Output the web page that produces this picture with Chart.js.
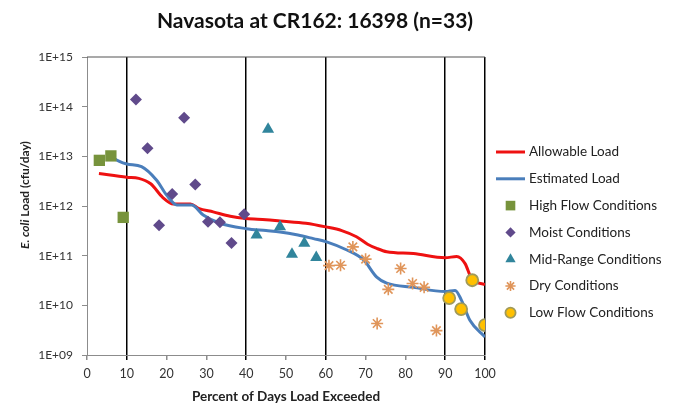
<!DOCTYPE html>
<html>
<head>
<meta charset="utf-8">
<script src="https://cdn.jsdelivr.net/npm/chart.js@4.4.1/dist/chart.umd.min.js"></script>
<style>
  html, body { margin: 0; padding: 0; background: #fff; }
</style>
</head>
<body>
<canvas id="loadChart" width="678" height="406"></canvas>
<script>
// load duration curve data
const allowX = [3, 10, 13, 16, 19, 21.7, 26, 28, 31.7, 36, 40, 45, 48.5, 55, 60, 64, 67.7, 70.5, 72.8, 75.3, 82, 90, 92.9, 95, 96.6, 100];
const allowY = [4.5e12, 3.8e12, 3.6e12, 2.8e12, 1.5e12, 1.1e12, 1.1e12, 9e11, 7.6e11, 6.2e11, 5.6e11, 5.3e11, 5e11, 4.5e11, 3.8e11, 3.2e11, 2.4e11, 1.7e11, 1.4e11, 1.2e11, 1.1e11, 9.1e10, 9.6e10, 6.9e10, 3.5e10, 2.6e10];

const estX = [6, 8, 10, 13.7, 17.5, 20, 22.6, 26.3, 29.2, 33.4, 40, 45, 48.5, 53, 56.9, 60.2, 65.3, 69.5, 72.8, 75.3, 82, 90, 92.5, 94.1, 96.2, 100];
const estY = [1.0e13, 8e12, 7e12, 6.2e12, 3.3e12, 1.66e12, 1.05e12, 1.05e12, 6.6e11, 4.5e11, 3.5e11, 3.2e11, 3e11, 2.6e11, 2.2e11, 1.9e11, 1.3e11, 8.2e10, 3.7e10, 2.8e10, 2.3e10, 1.9e10, 2e10, 1.26e10, 5e9, 2.3e9];

const highX = [3.1, 6.0, 9.1];
const highY = [8.3e12, 1.02e13, 5.9e11];

const moistX = [12.3, 15.2, 18.1, 21.4, 24.4, 27.2, 30.4, 33.4, 36.3, 39.5];
const moistY = [1.4e14, 1.45e13, 4.1e11, 1.75e12, 6e13, 2.7e12, 4.8e11, 4.7e11, 1.8e11, 6.8e11];

const midX = [42.6, 45.5, 48.5, 51.5, 54.6, 57.6];
const midY = [2.6e11, 3.5e13, 3.8e11, 1.07e11, 1.77e11, 9.2e10];

const dryX = [60.8, 63.7, 66.8, 70.0, 72.9, 75.7, 78.8, 81.8, 84.7, 87.8];
const dryY = [6.3e10, 6.4e10, 1.5e11, 8.5e10, 4.3e9, 2.1e10, 5.5e10, 2.75e10, 2.3e10, 3.1e9];

const lowX = [91.0, 94.0, 96.8, 100];
const lowY = [1.4e10, 8.4e9, 3.2e10, 4e9];

const xTicks = [0, 10, 20, 30, 40, 50, 60, 70, 80, 90, 100];
const yTicks = [1e9, 1e10, 1e11, 1e12, 1e13, 1e14, 1e15];
const zoneLines = [10, 40, 60, 90, 100];

const pts = (xs, ys) => xs.map((x, i) => ({ x: x, y: ys[i] }));
const FONT = 'Lato, Carlito, "Open Sans", sans-serif';

// top border of the plot box + the y title with italic "E. coli"
const framePlugin = {
  id: 'frame',
  beforeDatasetsDraw(chart) {
    const { ctx, chartArea: a } = chart;
    ctx.save();
    ctx.strokeStyle = '#555';
    ctx.lineWidth = 1.2;
    ctx.beginPath();
    ctx.moveTo(a.left, a.top);
    ctx.lineTo(a.right, a.top);
    ctx.stroke();
    ctx.restore();
  },
  afterDraw(chart) {
    const ctx = chart.ctx;
    const part1 = 'E. coli', part2 = ' Load (cfu/day)';
    ctx.save();
    ctx.translate(25, 195);
    ctx.rotate(-Math.PI / 2);
    ctx.fillStyle = '#222';
    ctx.textBaseline = 'middle';
    ctx.font = 'italic bold 12px ' + FONT;
    const w1 = ctx.measureText(part1).width;
    ctx.font = 'bold 12px ' + FONT;
    const w2 = ctx.measureText(part2).width;
    let x = -(w1 + w2) / 2;
    ctx.font = 'italic bold 12px ' + FONT;
    ctx.fillText(part1, x, 0);
    ctx.font = 'bold 12px ' + FONT;
    ctx.fillText(part2, x + w1, 0);
    ctx.restore();
  }
};

// legend at the right, lines and markers drawn with the dataset styles
const sideLegend = {
  id: 'sideLegend',
  afterDraw(chart) {
    const ctx = chart.ctx;
    const left = chart.chartArea.right + 11, lineW = 29, rowH = 26.8, top = 152;
    chart.data.datasets.forEach((ds, i) => {
      const y = top + i * rowH;
      const cx = left + lineW / 2;
      ctx.save();
      if (ds.showLine) {
        ctx.strokeStyle = ds.borderColor;
        ctx.lineWidth = 3;
        ctx.beginPath();
        ctx.moveTo(left, y);
        ctx.lineTo(left + lineW, y);
        ctx.stroke();
      } else {
        ctx.fillStyle = ds.backgroundColor;
        ctx.strokeStyle = ds.borderColor;
        ctx.lineWidth = ds.borderWidth;
        Chart.helpers.drawPoint(ctx, {
          pointStyle: ds.pointStyle, radius: ds.pointRadius * 0.85,
          rotation: 0, borderWidth: ds.borderWidth
        }, cx, y);
      }
      ctx.fillStyle = '#222';
      ctx.font = '13.5px ' + FONT;
      ctx.textBaseline = 'middle';
      ctx.fillText(ds.label, left + lineW + 4, y);
      ctx.restore();
    });
  }
};

new Chart(document.getElementById('loadChart'), {
  type: 'scatter',
  data: {
    datasets: [
      { label: 'Allowable Load', data: pts(allowX, allowY), showLine: true, borderColor: '#ee1111', borderWidth: 3,
        pointRadius: 0, cubicInterpolationMode: 'monotone', order: 10 },
      { label: 'Estimated Load', data: pts(estX, estY), showLine: true, borderColor: '#4a7ebb', borderWidth: 3,
        pointRadius: 0, cubicInterpolationMode: 'monotone', order: 9 },
      { label: 'High Flow Conditions', data: pts(highX, highY), pointStyle: 'rect', pointRadius: 8,
        backgroundColor: '#77933c', borderColor: '#77933c', borderWidth: 0, order: 1 },
      { label: 'Moist Conditions', data: pts(moistX, moistY), pointStyle: 'rectRot', pointRadius: 6,
        backgroundColor: '#604a8b', borderColor: '#604a8b', borderWidth: 0, order: 1 },
      { label: 'Mid-Range Conditions', data: pts(midX, midY), pointStyle: 'triangle', pointRadius: 7,
        backgroundColor: '#31859c', borderColor: '#31859c', borderWidth: 0, order: 1 },
      { label: 'Dry Conditions', data: pts(dryX, dryY), pointStyle: 'star', pointRadius: 6,
        backgroundColor: '#e0955a', borderColor: '#e0955a', borderWidth: 1.6, order: 1 },
      { label: 'Low Flow Conditions', data: pts(lowX, lowY), pointStyle: 'circle', pointRadius: 6,
        backgroundColor: '#ffc000', borderColor: '#a09a5a', borderWidth: 1.8, order: 1 }
    ]
  },
  options: {
    responsive: false,
    animation: false,
    layout: { padding: { left: 0, right: 48, top: 0, bottom: 0 } },
    plugins: {
      legend: { display: false },
      tooltip: { enabled: false },
      title: { display: true, text: 'Navasota at CR162: 16398 (n=33)', color: '#111',
        font: { family: FONT, size: 21, weight: 'bold' }, padding: { top: 9, bottom: 22.8 } }
    },
    scales: {
      x: {
        type: 'linear', min: 0, max: 100,
        afterBuildTicks: s => { s.ticks = xTicks.map(v => ({ value: v })); },
        afterFit: s => { s.height = 51; },
        ticks: { color: '#333', font: { family: FONT, size: 12.5 }, padding: 6, maxRotation: 0 },
        grid: {
          color: c => zoneLines.includes(c.tick && c.tick.value) ? '#000' : 'rgba(0,0,0,0)',
          tickColor: c => zoneLines.includes(c.tick && c.tick.value) ? '#000' : '#8c8c8c',
          lineWidth: 1.5, tickLength: 5
        },
        border: { display: true, color: '#8c8c8c', width: 1 },
        title: { display: true, text: 'Percent of Days Load Exceeded', color: '#222',
          font: { family: FONT, size: 13.5, weight: 'bold' }, padding: { top: 0, bottom: 1.5 } }
      },
      y: {
        type: 'logarithmic', min: 1e9, max: 1e15,
        afterBuildTicks: s => { s.ticks = yTicks.map(v => ({ value: v })); },
        afterFit: s => { s.width = 87; },
        ticks: { color: '#333', font: { family: FONT, size: 12 }, padding: 9,
          callback: v => '1E+' + String(Math.round(Math.log10(v))).padStart(2, '0') },
        grid: { drawOnChartArea: false, color: '#8c8c8c', tickLength: 5 },
        border: { display: true, color: '#8c8c8c', width: 1 }
      },
      yRight: {
        type: 'linear', position: 'right', display: true,
        afterFit: s => { s.width = 145; },
        ticks: { display: false },
        grid: { display: false },
        border: { display: false }
      }
    }
  },
  plugins: [framePlugin, sideLegend]
});
</script>
</body>
</html>
